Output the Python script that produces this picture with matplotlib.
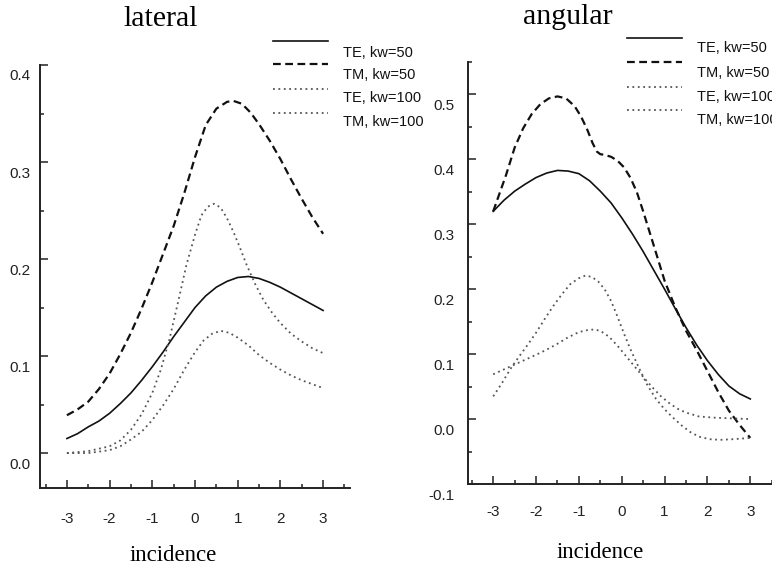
import matplotlib
matplotlib.use('Agg')
import matplotlib.pyplot as plt
import matplotlib.transforms as mtransforms
from matplotlib.lines import Line2D
from matplotlib.ticker import MultipleLocator, FormatStrFormatter

plt.rcParams['font.family'] = ['Liberation Sans', 'DejaVu Sans']
plt.rcParams['axes.unicode_minus'] = False

W, H = 772, 566

# lateral panel, values
lat_te50_x = [-3, -2.75, -2.5, -2.25, -2, -1.75, -1.5, -1.25, -1, -0.75, -0.5, -0.25, 0,
              0.25, 0.5, 0.75, 1, 1.25, 1.5, 1.75, 2, 2.25, 2.5, 2.75, 3]
lat_te50_y = [0.015, 0.020, 0.027, 0.033, 0.041, 0.051, 0.062, 0.075, 0.089, 0.104, 0.120, 0.135, 0.150,
              0.162, 0.171, 0.177, 0.181, 0.182, 0.180, 0.176, 0.171, 0.165, 0.159, 0.153, 0.147]

lat_tm50_x = [-3, -2.75, -2.5, -2.25, -2, -1.75, -1.5, -1.25, -1, -0.75, -0.5, -0.25, 0,
              0.25, 0.5, 0.75, 0.9, 1.1, 1.3, 1.5, 1.75, 2, 2.25, 2.5, 2.75, 3]
lat_tm50_y = [0.039, 0.045, 0.053, 0.066, 0.082, 0.102, 0.124, 0.149, 0.176, 0.205, 0.234, 0.268, 0.305,
              0.338, 0.355, 0.362, 0.363, 0.360, 0.351, 0.339, 0.322, 0.303, 0.282, 0.262, 0.243, 0.226]

lat_te100_x = [-3, -2.5, -2, -1.75, -1.5, -1.25, -1, -0.8, -0.6, -0.4, -0.2, 0, 0.15, 0.3, 0.45,
               0.6, 0.75, 0.9, 1.05, 1.2, 1.4, 1.6, 1.8, 2, 2.25, 2.5, 2.75, 3]
lat_te100_y = [0.0, 0.002, 0.007, 0.013, 0.024, 0.040, 0.062, 0.086, 0.117, 0.155, 0.194, 0.225, 0.245, 0.254, 0.257,
               0.253, 0.242, 0.228, 0.212, 0.195, 0.175, 0.158, 0.145, 0.134, 0.123, 0.115, 0.108, 0.103]

lat_tm100_x = [-3, -2.5, -2, -1.75, -1.5, -1.25, -1, -0.75, -0.5, -0.25, 0, 0.2, 0.4, 0.6,
               0.8, 1.0, 1.25, 1.5, 1.75, 2, 2.25, 2.5, 2.75, 3]
lat_tm100_y = [0.0, 0.0, 0.003, 0.007, 0.014, 0.022, 0.034, 0.049, 0.066, 0.086, 0.104, 0.116, 0.123, 0.126,
               0.124, 0.119, 0.111, 0.101, 0.093, 0.086, 0.080, 0.075, 0.071, 0.067]

# angular panel
ang_te50_x = [-3, -2.75, -2.5, -2.25, -2, -1.75, -1.5, -1.25, -1, -0.75, -0.5, -0.25, 0,
              0.25, 0.5, 0.75, 1, 1.25, 1.5, 1.75, 2, 2.25, 2.5, 2.75, 3]
ang_te50_y = [0.320, 0.337, 0.351, 0.362, 0.372, 0.379, 0.383, 0.382, 0.378, 0.367, 0.351, 0.333, 0.310,
              0.285, 0.258, 0.229, 0.200, 0.170, 0.141, 0.114, 0.090, 0.069, 0.051, 0.039, 0.031]

ang_tm50_x = [-3, -2.85, -2.7, -2.5, -2.3, -2.1, -1.9, -1.7, -1.5, -1.3, -1.1, -0.95, -0.8, -0.68,
              -0.58, -0.5, -0.4, -0.25, -0.1, 0.05, 0.2, 0.35, 0.5, 0.65, 0.8, 1.0, 1.25, 1.5,
              1.75, 2.0, 2.25, 2.5, 2.75, 3]
ang_tm50_y = [0.320, 0.348, 0.376, 0.418, 0.448, 0.470, 0.485, 0.494, 0.497, 0.494, 0.482, 0.466, 0.445, 0.425,
              0.412, 0.408, 0.407, 0.404, 0.398, 0.388, 0.372, 0.350, 0.320, 0.288, 0.256, 0.213, 0.172, 0.136,
              0.106, 0.074, 0.042, 0.013, -0.009, -0.029]

ang_te100_x = [-3, -2.8, -2.6, -2.4, -2.2, -2, -1.8, -1.6, -1.4, -1.2, -1.0, -0.85, -0.7, -0.55, -0.4,
               -0.25, -0.1, 0.05, 0.2, 0.4, 0.6, 0.8, 1.0, 1.2, 1.4, 1.6, 1.8, 2.05, 2.3, 2.6, 3]
ang_te100_y = [0.035, 0.055, 0.077, 0.096, 0.114, 0.133, 0.154, 0.174, 0.192, 0.208, 0.217, 0.221, 0.219, 0.212, 0.200,
               0.182, 0.158, 0.132, 0.108, 0.079, 0.052, 0.031, 0.015, 0.002, -0.010, -0.020, -0.027, -0.031, -0.032, -0.031, -0.029]

ang_tm100_x = [-3, -2.5, -2, -1.75, -1.5, -1.25, -1.0, -0.8, -0.65, -0.5, -0.3, -0.1, 0.1, 0.3, 0.5,
               0.7, 0.9, 1.1, 1.3, 1.5, 1.8, 2.2, 2.6, 3]
ang_tm100_y = [0.069, 0.084, 0.099, 0.107, 0.116, 0.126, 0.134, 0.137, 0.138, 0.136, 0.127, 0.113, 0.097, 0.081, 0.065,
               0.050, 0.036, 0.025, 0.016, 0.010, 0.004, 0.002, 0.001, 0.0]

labels = ['TE, kw=50', 'TM, kw=50', 'TE, kw=100', 'TM, kw=100']
styles = [
    dict(color='#111111', lw=1.2, ls='-'),
    dict(color='#111111', lw=1.6, ls=(0, (3.5, 2))),
    dict(color='#555555', lw=1.3, ls=(0, (1, 2))),
    dict(color='#555555', lw=1.3, ls=(0, (1, 2))),
]

fig = plt.figure(figsize=(W / 100, H / 100), dpi=100)


def fx(x):
    return x / W


def fy(y):
    return 1 - y / H


ax0 = fig.add_axes([fx(40), fy(488), 310 / W, 423 / H])
ax1 = fig.add_axes([fx(467.5), fy(484), 308.5 / W, 422 / H])

for (xs, ys), st in zip([(lat_te50_x, lat_te50_y), (lat_tm50_x, lat_tm50_y),
                         (lat_te100_x, lat_te100_y), (lat_tm100_x, lat_tm100_y)], styles):
    ax0.plot(xs, ys, solid_joinstyle='round', dash_joinstyle='round', **st)
for (xs, ys), st in zip([(ang_te50_x, ang_te50_y), (ang_tm50_x, ang_tm50_y),
                         (ang_te100_x, ang_te100_y), (ang_tm100_x, ang_tm100_y)], styles):
    ax1.plot(xs, ys, solid_joinstyle='round', dash_joinstyle='round', **st)

ax0.set_xlim(-3.63, 3.63)
ax0.set_ylim(-0.036, 0.4)
ax1.set_xlim(-3.6, 3.6)
ax1.set_ylim(-0.1, 0.55)

offset = mtransforms.ScaledTranslation(0, -0.1, fig.dpi_scale_trans)
for ax, xpad, ypad in [(ax0, 17.5, 7), (ax1, 14.8, 9.4)]:
    ax.spines['top'].set_visible(False)
    ax.spines['right'].set_visible(False)
    for s in ['left', 'bottom']:
        ax.spines[s].set_linewidth(1.4)
        ax.spines[s].set_color('#222222')
    ax.xaxis.set_major_locator(MultipleLocator(1))
    ax.xaxis.set_minor_locator(MultipleLocator(0.5))
    ax.yaxis.set_major_locator(MultipleLocator(0.1))
    ax.yaxis.set_minor_locator(MultipleLocator(0.05))
    ax.tick_params(which='both', direction='in', width=1.1, colors='#222222', labelsize=11)
    ax.tick_params(which='major', length=5.5)
    ax.tick_params(which='minor', length=3)
    ax.tick_params(axis='x', pad=xpad)
    ax.tick_params(axis='y', pad=ypad)
    ax.yaxis.set_major_formatter(FormatStrFormatter('%.1f'))
    for lab in ax.yaxis.get_majorticklabels():
        lab.set_transform(lab.get_transform() + offset)

# titles and axis labels
serif = ['Liberation Serif', 'DejaVu Serif']
fig.text(fx(161), fy(26), 'lateral', family=serif, fontsize=21.5, ha='center', va='baseline')
fig.text(fx(568), fy(24), 'angular', family=serif, fontsize=21.5, ha='center', va='baseline')
fig.text(fx(173), fy(561), 'incidence', family=serif, fontsize=16.5, ha='center', va='baseline')
fig.text(fx(600), fy(558), 'incidence', family=serif, fontsize=16.5, ha='center', va='baseline')

# legend keys, drawn like the original (text sits a little below each key)
legend_specs = [
    (273, 328, [41, 64, 89, 113], 343, [53, 75, 98, 122]),
    (627, 682, [38, 62, 87, 110], 697, [48, 73, 97, 120]),
]
for x0, x1, line_ys, tx, text_ys in legend_specs:
    for st, lab, ly, ty in zip(styles, labels, line_ys, text_ys):
        fig.add_artist(Line2D([fx(x0), fx(x1)], [fy(ly), fy(ly)], transform=fig.transFigure, **st))
        fig.text(fx(tx), fy(ty), lab, fontsize=10.5, ha='left', va='center', color='#111111')

fig.savefig('out.png', dpi=100)
